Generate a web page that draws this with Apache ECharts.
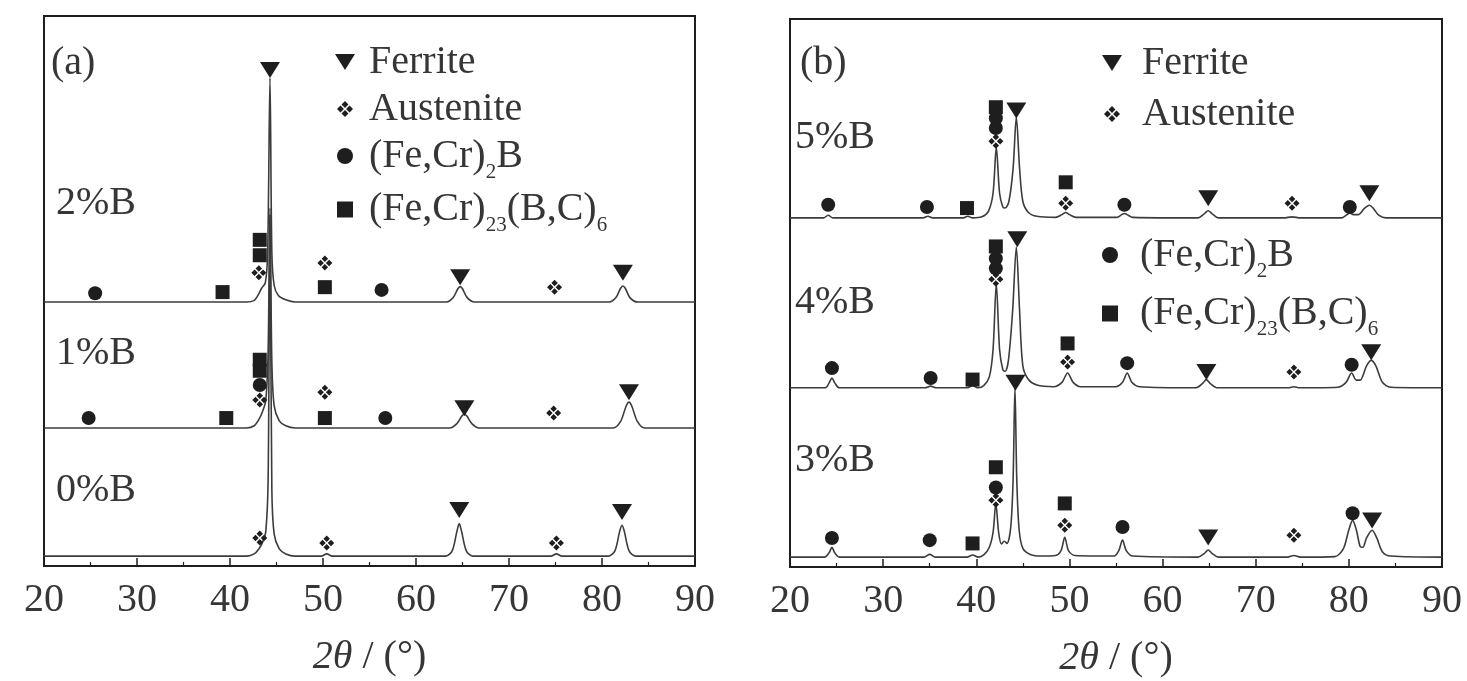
<!DOCTYPE html>
<html>
<head>
<meta charset="utf-8">
<title>XRD</title>
<script src="https://cdn.jsdelivr.net/npm/echarts/dist/echarts.min.js"></script>
<style>
  html, body { margin: 0; padding: 0; background: #fff; }
  #chart { width: 1467px; height: 681px; }
</style>
</head>
<body>
<div id="chart"></div>
<script>
// 2θ axis ticks
var xTicks = { min: 20, max: 90, step: 10 }

// panel (a): baselines of 0%B, 1%B, 2%B (a.u.)
var offsetsA = [1.8, 25.1, 48.0]
var curveA0 = [
  [20, 0], [41.8, 0], [42.6, 0.4], [43.1, 1.3], [43.5, 2.5], [43.85, 4.5], [44.1, 14], [44.3, 62], [44.5, 12], [44.75, 4], [45.3, 1.3], [46, 0.4], [47, 0],
  [49.8, 0], [50.4, 0.4], [51, 0],
  [63.2, 0], [63.9, 1], [64.4, 4.5], [64.65, 5.9], [64.9, 4.5], [65.4, 1], [66.1, 0],
  [74.5, 0], [75.1, 0.4], [75.7, 0],
  [80.7, 0], [81.4, 1], [81.9, 4.5], [82.15, 5.6], [82.4, 4.5], [82.9, 1], [83.6, 0], [90, 0]
]
var curveA1 = [
  [20, 0], [41.8, 0], [42.6, 0.4], [43.1, 1.5], [43.5, 3], [43.85, 5], [44.1, 14], [44.3, 40], [44.5, 12], [44.75, 4], [45.3, 1.3], [46, 0.4], [47, 0],
  [63.6, 0], [64.4, 0.8], [64.95, 2.2], [65.2, 2.5], [65.45, 2.2], [66.0, 0.8], [66.8, 0],
  [81.2, 0], [82.0, 1.2], [82.6, 4], [82.9, 4.7], [83.2, 4], [83.8, 1.2], [84.6, 0], [90, 0]
]
var curveA2 = [
  [20, 0], [41.8, 0], [42.6, 0.3], [43.0, 1.2], [43.4, 2.5], [43.8, 3.5], [44.05, 9], [44.3, 40.7], [44.5, 9], [44.75, 3], [45.2, 1.2], [46, 0.4], [47, 0],
  [63.3, 0], [64.0, 0.8], [64.5, 2.4], [64.75, 2.8], [65.0, 2.4], [65.5, 0.8], [66.3, 0],
  [80.8, 0], [81.5, 0.8], [82.0, 2.5], [82.25, 2.9], [82.5, 2.5], [83.0, 0.8], [83.8, 0], [90, 0]
]
// markers: [pattern, 2θ, height above baseline]
var ferriteA = [[0, 64.65, 8.4], [0, 82.15, 8.0], [1, 65.2, 3.6], [1, 82.9, 6.5], [2, 44.3, 42.2], [2, 64.75, 4.5], [2, 82.25, 5.3]]
var austeniteA = [[0, 43.2, 3.3], [0, 50.4, 2.4], [0, 75.1, 2.4], [1, 43.2, 5.1], [1, 50.2, 6.5], [1, 74.8, 2.7], [2, 43.1, 5.3], [2, 50.2, 7.1], [2, 74.9, 2.7]]
var borideA = [[1, 24.8, 1.8], [1, 43.2, 7.8], [1, 56.7, 1.8], [2, 25.5, 1.6], [2, 56.3, 2.2]]
var carbideA = [[1, 39.6, 1.8], [1, 43.2, 10.4], [1, 43.2, 12.4], [1, 50.2, 1.8], [2, 39.2, 1.8], [2, 43.2, 8.5], [2, 43.2, 11.3], [2, 50.2, 2.7]]

// panel (b): baselines of 3%B, 4%B, 5%B (a.u.)
var offsetsB = [1.8, 32.7, 63.7]
var curveB0 = [
  [20, 0], [23.7, 0], [24.2, 0.8], [24.5, 1.8], [24.8, 0.8], [25.3, 0],
  [34.4, 0], [35.0, 0.5], [35.6, 0],
  [39.0, 0], [39.6, 0.4], [40.2, 0],
  [40.8, 0.4], [41.4, 1.8], [41.8, 4.5], [42.1, 9.8], [42.4, 4.5], [42.7, 2.4], [43.0, 2.9], [43.3, 2.5], [43.7, 5.5], [43.95, 14], [44.15, 31], [44.35, 14], [44.6, 5], [45.0, 1.6], [45.8, 0.5], [47, 0.2],
  [48.5, 0.3], [49.1, 1.2], [49.5, 3.6], [49.9, 1.2], [50.6, 0.3],
  [54.8, 0.2], [55.3, 1.2], [55.7, 3.1], [56.1, 1.2], [56.8, 0.2],
  [63.8, 0], [64.5, 0.7], [64.9, 1.3], [65.3, 0.7], [66.0, 0],
  [73.4, 0], [74.1, 0.3], [74.8, 0],
  [78.5, 0.1], [79.4, 1.5], [80.0, 5], [80.4, 6.7], [80.8, 5], [81.2, 2], [81.5, 1.8], [81.9, 3.5], [82.5, 4.9], [83.0, 3.5], [83.6, 1], [84.5, 0.2], [90, 0]
]
var curveB1 = [
  [20, 0], [23.8, 0], [24.2, 0.9], [24.5, 1.8], [24.8, 0.9], [25.3, 0],
  [34.5, 0], [35.1, 0.3], [35.7, 0],
  [39.0, 0], [39.6, 0.4], [40.2, 0],
  [40.8, 0.4], [41.4, 2], [41.8, 7], [42.15, 19], [42.5, 7], [42.85, 3.3], [43.1, 3], [43.45, 5], [43.9, 14], [44.3, 25.7], [44.65, 14], [45.0, 4], [45.6, 1.5], [46.5, 0.5],
  [48.3, 0.2], [49.2, 1], [49.8, 2.7], [50.4, 1], [51.2, 0.2],
  [55.0, 0.2], [55.7, 1], [56.2, 2.7], [56.7, 1], [57.5, 0.2],
  [63.6, 0], [64.3, 0.8], [64.7, 1.5], [65.1, 0.8], [65.9, 0],
  [73.5, 0], [74.1, 0.2], [74.7, 0],
  [78.8, 0.1], [79.7, 1], [80.3, 2.7], [80.8, 1.4], [81.2, 1.4], [81.9, 4], [82.4, 5], [82.9, 4], [83.6, 1], [84.5, 0.1], [90, 0]
]
var curveB2 = [
  [20, 0], [23.6, 0], [24.1, 0.5], [24.6, 0],
  [34.3, 0], [34.8, 0.3], [35.3, 0],
  [38.6, 0], [39.1, 0.3], [39.6, 0],
  [40.6, 0.2], [41.3, 1.2], [41.8, 4.5], [42.15, 12.9], [42.5, 4.5], [42.85, 2], [43.1, 1.8], [43.5, 3], [43.95, 9], [44.3, 18.4], [44.65, 9], [45.0, 3], [45.6, 1], [46.5, 0.3],
  [48.5, 0.1], [49.2, 0.6], [49.6, 1], [50.0, 0.6], [50.7, 0.1],
  [55.1, 0.1], [55.6, 0.6], [55.9, 0.8], [56.2, 0.6], [56.8, 0.1],
  [63.8, 0], [64.5, 0.8], [64.9, 1.3], [65.3, 0.8], [66.0, 0],
  [73.0, 0], [73.9, 0.2], [74.8, 0],
  [79.2, 0], [79.8, 0.6], [80.1, 0.9], [80.5, 0.6], [81.0, 0.6], [81.7, 1.8], [82.2, 2.3], [82.6, 1.8], [83.2, 0.5], [84, 0], [90, 0]
]
var ferriteB = [[0, 44.2, 31.8], [0, 64.9, 3.6], [0, 82.5, 6.7], [1, 44.4, 27.1], [1, 64.7, 2.9], [1, 82.4, 6.5], [2, 44.3, 19.6], [2, 64.9, 3.6], [2, 82.2, 4.5]]
var austeniteB = [[0, 42.1, 10.4], [0, 49.5, 5.8], [0, 74.1, 4.0], [1, 42.1, 19.8], [1, 49.8, 4.7], [1, 74.1, 2.9], [2, 42.1, 14.0], [2, 49.6, 2.7], [2, 73.9, 2.7]]
var borideB = [[0, 24.5, 3.5], [0, 35.0, 3.1], [0, 42.1, 12.7], [0, 55.7, 5.5], [0, 80.4, 8.0], [1, 24.5, 3.6], [1, 35.1, 1.8], [1, 42.1, 21.8], [1, 42.1, 23.6], [1, 56.2, 4.5], [1, 80.3, 4.2], [2, 24.1, 2.4], [2, 34.7, 2.0], [2, 42.1, 16.4], [2, 42.1, 18.2], [2, 55.9, 2.4], [2, 80.1, 2.0]]
var carbideB = [[0, 39.6, 2.5], [0, 42.1, 16.4], [0, 49.5, 9.8], [1, 39.6, 1.5], [1, 42.1, 25.8], [1, 49.8, 8.1], [2, 39.0, 1.8], [2, 42.1, 20.2], [2, 49.6, 6.5]]

var phaseNames = ['Ferrite', 'Austenite', '(Fe,Cr)2B', '(Fe,Cr)23(B,C)6']
var phaseLabels = {
  'Ferrite': 'Ferrite',
  'Austenite': 'Austenite',
  '(Fe,Cr)2B': '(Fe,Cr){s|2}B',
  '(Fe,Cr)23(B,C)6': '(Fe,Cr){s|23}(B,C){s|6}'
}

var serif = '"Liberation Serif", "DejaVu Serif", serif'
var ink = '#1e1e1e'
var textInk = '#363636'
var triPath = 'path://M0,0L20,0L10,16Z'
// four small blobs round an empty centre
var dotPath = 'path://M6,0L8.6,2.6L6,5.2L3.4,2.6Z M9.4,3.4L12,6L9.4,8.6L6.8,6Z M6,6.8L8.6,9.4L6,12L3.4,9.4Z M2.6,3.4L5.2,6L2.6,8.6L0,6Z'
var squarePath = 'path://M0,0L10,0L10,10L0,10Z'
var symbols = {
  'Ferrite': { symbol: triPath, size: [20, 16] },
  'Austenite': { symbol: dotPath, size: [15, 15] },
  '(Fe,Cr)2B': { symbol: 'circle', size: 14 },
  '(Fe,Cr)23(B,C)6': { symbol: squarePath, size: [14, 14] }
}

function curveSeries(points, offset, idx) {
  return {
    type: 'line',
    xAxisIndex: idx,
    yAxisIndex: idx,
    data: points.map(function (p) { return [p[0], p[1] + offset] }),
    showSymbol: false,
    smooth: 0.3,
    silent: true,
    lineStyle: { color: '#3c3c3c', width: 1.6 },
    z: 2
  }
}

function markerSeries(name, list, offsets, idx) {
  return {
    type: 'scatter',
    name: name,
    xAxisIndex: idx,
    yAxisIndex: idx,
    data: list.map(function (m) { return [m[1], offsets[m[0]] + m[2]] }),
    symbol: symbols[name].symbol,
    symbolSize: symbols[name].size,
    itemStyle: { color: ink, opacity: 1 },
    silent: true,
    z: 5
  }
}

function xAxisOf(idx) {
  return {
    type: 'value',
    gridIndex: idx,
    min: xTicks.min,
    max: xTicks.max,
    interval: xTicks.step,
    axisLine: { show: true, onZero: false, lineStyle: { color: ink, width: 2 } },
    axisTick: { show: true, inside: true, length: 8, lineStyle: { color: ink, width: 1.5 } },
    minorTick: { show: true, splitNumber: 2, length: 4, lineStyle: { color: ink, width: 1.2 } },
    splitLine: { show: false },
    axisLabel: { color: textInk, fontSize: 40, fontFamily: serif, margin: 14 },
    name: '{i|2θ} / (°)',
    nameLocation: 'middle',
    nameGap: 71,
    nameTextStyle: {
      color: textInk, fontSize: 40, fontFamily: serif,
      rich: { i: { fontStyle: 'italic', fontSize: 40, fontFamily: serif, color: textInk } }
    }
  }
}

function legendOf(names, left, top, itemWidth, gap) {
  return {
    orient: 'vertical',
    left: left,
    top: top,
    padding: 0,
    itemWidth: itemWidth,
    itemHeight: 16,
    itemGap: gap,
    selectedMode: false,
    data: names.map(function (n) { return { name: n, icon: symbols[n].symbol } }),
    formatter: function (name) { return phaseLabels[name] },
    textStyle: {
      color: textInk, fontSize: 40, fontFamily: serif, lineHeight: 40,
      // subscripts sit low, across the baseline
      rich: { s: { fontSize: 21, fontFamily: serif, color: textInk, height: 8, lineHeight: 8, verticalAlign: 'bottom' } }
    }
  }
}

function label(text, x, y) {
  return {
    type: 'text', x: x, y: y, silent: true,
    style: { text: text, fill: textInk, fontSize: 40, fontFamily: serif, verticalAlign: 'middle' }
  }
}

var series = [
  curveSeries(curveA0, offsetsA[0], 0),
  curveSeries(curveA1, offsetsA[1], 0),
  curveSeries(curveA2, offsetsA[2], 0),
  curveSeries(curveB0, offsetsB[0], 1),
  curveSeries(curveB1, offsetsB[1], 1),
  curveSeries(curveB2, offsetsB[2], 1),
  markerSeries('Ferrite', ferriteA, offsetsA, 0),
  markerSeries('Austenite', austeniteA, offsetsA, 0),
  markerSeries('(Fe,Cr)2B', borideA, offsetsA, 0),
  markerSeries('(Fe,Cr)23(B,C)6', carbideA, offsetsA, 0),
  markerSeries('Ferrite', ferriteB, offsetsB, 1),
  markerSeries('Austenite', austeniteB, offsetsB, 1),
  markerSeries('(Fe,Cr)2B', borideB, offsetsB, 1),
  markerSeries('(Fe,Cr)23(B,C)6', carbideB, offsetsB, 1)
]

var option = {
  backgroundColor: '#fff',
  animation: false,
  grid: [
    { left: 44, right: 772, top: 16, bottom: 115, show: true, borderColor: ink, borderWidth: 2, containLabel: false, outerBoundsMode: 'none' },
    { left: 790, right: 25, top: 19, bottom: 114, show: true, borderColor: ink, borderWidth: 2, containLabel: false, outerBoundsMode: 'none' }
  ],
  xAxis: [xAxisOf(0), xAxisOf(1)],
  yAxis: [
    { type: 'value', gridIndex: 0, min: 0, max: 100, show: false },
    { type: 'value', gridIndex: 1, min: 0, max: 100, show: false }
  ],
  legend: [
    legendOf(phaseNames, 335, 42, 38, 7),
    legendOf(phaseNames.slice(0, 2), 1102, 43, 50, 11),
    legendOf(phaseNames.slice(2), 1102, 235, 50, 12)
  ],
  graphic: [
    label('(a)', 51, 63),
    label('2%B', 56, 203),
    label('1%B', 56, 353),
    label('0%B', 56, 490),
    label('(b)', 800, 63),
    label('5%B', 795, 137),
    label('4%B', 795, 302),
    label('3%B', 795, 460)
  ],
  series: series
}

var chart = echarts.init(document.getElementById('chart'))
chart.setOption(option)
</script>
</body>
</html>
